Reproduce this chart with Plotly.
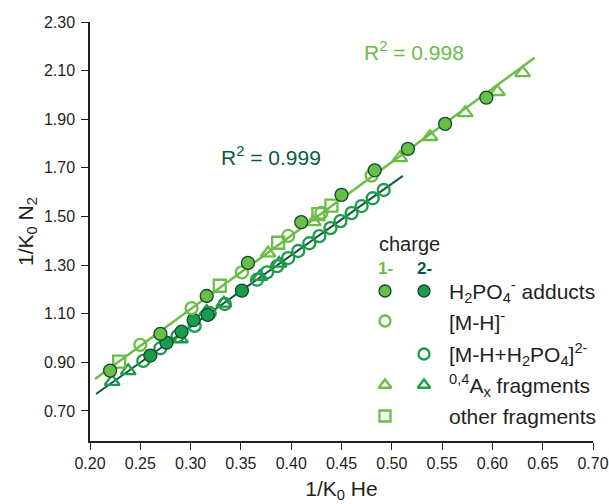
import plotly.graph_objects as go

# ---------------- data (1/K0 He , 1/K0 N2) ----------------
# charge 1-
adduct1_x = [0.220, 0.270, 0.316, 0.357, 0.410, 0.450, 0.483, 0.516, 0.553, 0.594]
adduct1_y = [0.866, 1.017, 1.173, 1.309, 1.477, 1.589, 1.690, 1.778, 1.881, 1.989]
mh1_x = [0.250, 0.301, 0.351, 0.397, 0.430, 0.480]
mh1_y = [0.972, 1.123, 1.270, 1.420, 1.515, 1.668]
frag1_x = [0.377, 0.422, 0.508, 0.538, 0.573, 0.605, 0.630]
frag1_y = [1.349, 1.478, 1.741, 1.828, 1.926, 2.013, 2.091]
other1_x = [0.229, 0.329, 0.387, 0.427, 0.440]
other1_y = [0.903, 1.215, 1.392, 1.510, 1.545]
fit1_x = [0.205, 0.642]
fit1_y = [0.832, 2.153]

# charge 2-
adduct2_x = [0.260, 0.276, 0.291, 0.303, 0.317, 0.351]
adduct2_y = [0.928, 0.981, 1.026, 1.074, 1.095, 1.195]
mhp2_x = [0.253, 0.270, 0.287, 0.304, 0.319, 0.334, 0.366, 0.376, 0.386,
          0.397, 0.407, 0.418, 0.428, 0.439, 0.449, 0.460, 0.470, 0.481, 0.492]
mhp2_y = [0.906, 0.958, 1.008, 1.050, 1.103, 1.140, 1.240, 1.270, 1.296,
          1.329, 1.358, 1.390, 1.419, 1.452, 1.481, 1.514, 1.543, 1.575, 1.609]
frag2_x = [0.222, 0.238, 0.290, 0.316, 0.333, 0.369, 0.388]
frag2_y = [0.821, 0.865, 0.996, 1.109, 1.143, 1.253, 1.307]
fit2_x = [0.206, 0.511]
fit2_y = [0.770, 1.667]

r2_1 = "R<sup>2</sup> = 0.998"
r2_2 = "R<sup>2</sup> = 0.999"

legend_rows = ["H<sub>2</sub>PO<sub>4</sub><sup>-</sup> adducts",
               "[M-H]<sup>-</sup>",
               "[M-H+H<sub>2</sub>PO<sub>4</sub>]<sup>2-</sup>",
               "<sup>0,4</sup>A<sub>x</sub> fragments",
               "other fragments"]

x_ticks = [0.20, 0.25, 0.30, 0.35, 0.40, 0.45, 0.50, 0.55, 0.60, 0.65, 0.70]
y_ticks = [0.70, 0.90, 1.10, 1.30, 1.50, 1.70, 1.90, 2.10, 2.30]

# ---------------- styles ----------------
LIGHT = "#6abd45"
MID = "#1c9b4a"
DARK = "#0c5a3a"
OUTLINE = "#0b4a32"
TXT = "#231f20"
FONT = "Liberation Sans, Arial, sans-serif"

fig = go.Figure()

fig.add_trace(go.Scatter(x=fit1_x, y=fit1_y, mode="lines",
                         line=dict(color=LIGHT, width=2.5), showlegend=False))
fig.add_trace(go.Scatter(x=fit2_x, y=fit2_y, mode="lines",
                         line=dict(color=DARK, width=2), showlegend=False))

def pts(x, y, symbol, color, fill=None, outline=None, size=12, lw=2.3):
    if fill is None:
        m = dict(symbol=symbol + "-open", size=size, color=color,
                 line=dict(color=color, width=lw))
    else:
        m = dict(symbol=symbol, size=size, color=fill,
                 line=dict(color=outline, width=1.3))
    return go.Scatter(x=x, y=y, mode="markers", marker=m, showlegend=False)

fig.add_trace(pts(mhp2_x, mhp2_y, "circle", MID, size=12))
fig.add_trace(pts(frag2_x, frag2_y, "triangle-up", MID, size=13))
fig.add_trace(pts(adduct2_x, adduct2_y, "circle", MID, fill=MID, outline=OUTLINE, size=13))
fig.add_trace(pts(other1_x, other1_y, "square", LIGHT, size=12))
fig.add_trace(pts(mh1_x, mh1_y, "circle", LIGHT, size=12))
fig.add_trace(pts(frag1_x, frag1_y, "triangle-up", LIGHT, size=13))
fig.add_trace(pts(adduct1_x, adduct1_y, "circle", LIGHT, fill=LIGHT, outline=OUTLINE, size=13))

# ---------------- custom legend on overlay pixel axes ----------------
col1_x, col2_x, text_x = 385, 424, 447
row_y = [291, 321, 354, 385, 416]
leg = [
    (col1_x, row_y[0], "circle", LIGHT, LIGHT), (col2_x, row_y[0], "circle", MID, MID),
    (col1_x, row_y[1], "circle-open", LIGHT, None),
    (col2_x, row_y[2], "circle-open", MID, None),
    (col1_x, row_y[3], "triangle-up-open", LIGHT, None), (col2_x, row_y[3], "triangle-up-open", MID, None),
    (col1_x, row_y[4], "square-open", LIGHT, None),
]
for lx, ly, sym, col, fill in leg:
    if fill:
        m = dict(symbol=sym, size=12, color=fill, line=dict(color=OUTLINE, width=1.3))
    else:
        m = dict(symbol=sym, size=11, color=col, line=dict(color=col, width=2.3))
    fig.add_trace(go.Scatter(x=[lx], y=[ly], mode="markers", marker=m,
                             xaxis="x2", yaxis="y2", showlegend=False))

ann = []
for ly, txt in zip(row_y, legend_rows):
    ann.append(dict(x=text_x, y=ly, xref="x2", yref="y2", text=txt, showarrow=False,
                    xanchor="left", yanchor="middle",
                    font=dict(family=FONT, size=21, color=TXT)))
ann.append(dict(x=377, y=244, xref="x2", yref="y2", text="charge", showarrow=False,
                xanchor="left", yanchor="middle", font=dict(family=FONT, size=20, color=TXT)))
ann.append(dict(x=col1_x, y=268, xref="x2", yref="y2", text="<b>1-</b>", showarrow=False,
                xanchor="center", yanchor="middle", font=dict(family=FONT, size=17, color=LIGHT)))
ann.append(dict(x=col2_x, y=268, xref="x2", yref="y2", text="<b>2-</b>", showarrow=False,
                xanchor="center", yanchor="middle", font=dict(family=FONT, size=17, color=DARK)))
ann.append(dict(x=414, y=51, xref="x2", yref="y2", text=r2_1, showarrow=False,
                xanchor="center", yanchor="middle", font=dict(family=FONT, size=21, color=LIGHT)))
ann.append(dict(x=271, y=156, xref="x2", yref="y2", text=r2_2, showarrow=False,
                xanchor="center", yanchor="middle", font=dict(family=FONT, size=21, color=DARK)))

axis_common = dict(showgrid=False, zeroline=False, showline=True, linecolor=TXT,
                   linewidth=1.5, ticks="outside", ticklen=7, tickwidth=1.3,
                   tickcolor=TXT, tickfont=dict(family=FONT, size=16, color=TXT),
                   automargin=False)

fig.update_layout(
    width=609, height=504,
    margin=dict(l=90, r=16, t=22, b=63),
    paper_bgcolor="white", plot_bgcolor="white",
    xaxis=dict(range=[0.2, 0.7], tickvals=x_ticks, tickformat=".2f",
               title=dict(text="1/K<sub>0</sub> He", font=dict(family=FONT, size=21, color=TXT),
                          standoff=10),
               **axis_common),
    yaxis=dict(range=[0.5765, 2.30], tickvals=y_ticks, tickformat=".2f",
               ticklabelstandoff=3,
               title=dict(text="1/K<sub>0</sub> N<sub>2</sub>", font=dict(family=FONT, size=21, color=TXT),
                          standoff=5),
               **axis_common),
    xaxis2=dict(range=[90, 593], overlaying="x", visible=False, fixedrange=True),
    yaxis2=dict(range=[441, 22], overlaying="y", visible=False, fixedrange=True),
    annotations=ann,
)

fig.write_html("out.html")
